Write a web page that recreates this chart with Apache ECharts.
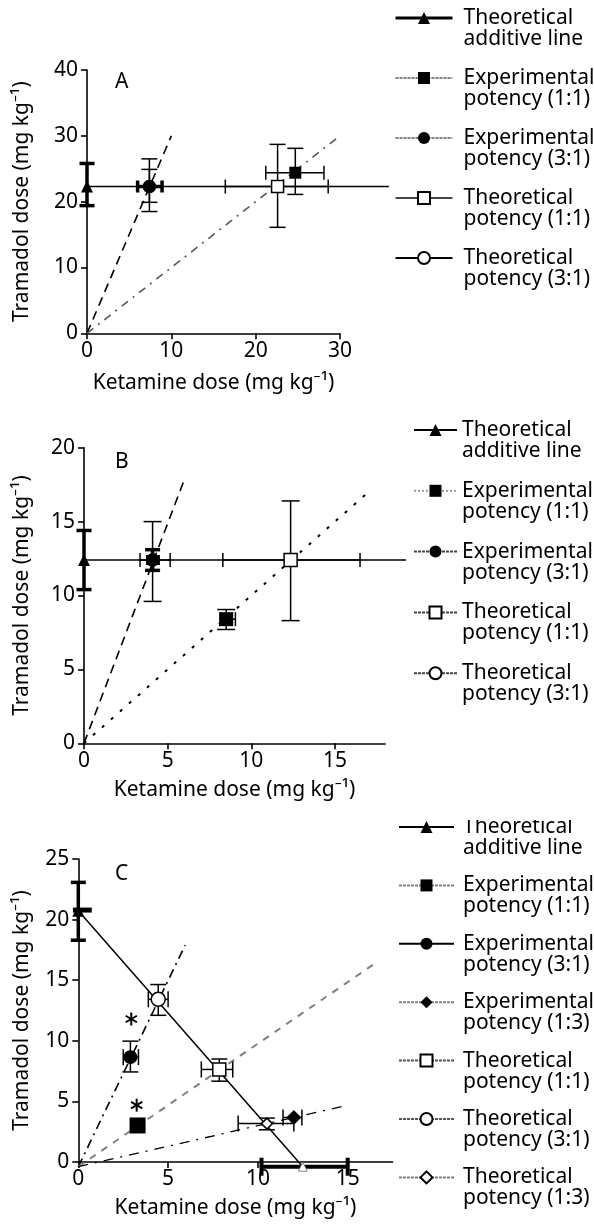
<!DOCTYPE html>
<html>
<head>
<meta charset="utf-8">
<script src="https://cdn.jsdelivr.net/npm/echarts@6/dist/echarts.min.js"></script>
<style>
  body { margin: 0; background: #fff; }
  .panel { position: absolute; left: 0; width: 594px; }
  #chartA { top: 0; height: 400px; }
  #chartB { top: 400px; height: 420px; }
  #chartC { top: 820px; height: 404px; }
</style>
</head>
<body>
<div id="chartA" class="panel"></div>
<div id="chartB" class="panel"></div>
<div id="chartC" class="panel"></div>
<script>
var FONT = '"Noto Sans", "DejaVu Sans", sans-serif';
var FS = 21;
var BLACK = '#000';
var GREY = '#808080';

var xName = 'Ketamine dose (mg kg\u207B\u00B9)';
var yName = 'Tramadol dose (mg kg\u207B\u00B9)';

// ---------- panel A ----------
var aXTicks = [0, 10, 20, 30];
var aYTicks = [0, 10, 20, 30, 40];
var aLegend = ['Theoretical additive line', 'Experimental potency (1:1)', 'Experimental potency (3:1)',
  'Theoretical potency (1:1)', 'Theoretical potency (3:1)'];
var aAdditive = [[0, 22.3], [35.8, 22.3]];
var aExp11 = [[24.7, 24.4]];
var aExp31 = [[7.4, 22.3]];
var aTheo11 = [[22.6, 22.3]];
var aTheo31 = [[7.4, 22.3]];
var aRatio31 = [[0, 0], [10, 30]];
var aRatio11 = [[0, 0], [30, 30]];
// error bars: [x, y, low, high]
var aErrVThick = [[0, 22.3, 19.4, 25.8]];
var aErrHThick = [[7.4, 22.3, 6.0, 8.9]];
var aErrVThin = [[7.4, 22.3, 18.5, 26.5], [7.4, 22.3, 19.9, 24.9], [24.7, 24.4, 21.1, 28.1], [22.6, 22.3, 16.1, 28.7]];
var aErrHThin = [[24.7, 24.4, 21.2, 28.1], [22.6, 22.3, 16.4, 28.6]];

// ---------- panel B ----------
var bXTicks = [0, 5, 10, 15];
var bYTicks = [0, 5, 10, 15, 20];
var bLegend = aLegend;
var bAdditive = [[0, 12.4], [19.25, 12.4]];
var bExp11 = [[8.5, 8.4]];
var bExp31 = [[4.1, 12.4]];
var bTheo11 = [[12.35, 12.4]];
var bTheo31 = [[4.1, 12.4]];
var bRatio31 = [[0, 0], [5.95, 17.7]];
var bRatio11 = [[0, 0], [17, 17]];
var bErrVThick = [[0, 12.4, 10.4, 14.4], [4.1, 12.4, 11.7, 13.1]];
var bErrHThick = [[4.1, 12.4, 3.8, 4.45]];
var bErrVThin = [[4.1, 12.4, 9.6, 15.0], [8.5, 8.4, 7.7, 9.05], [12.35, 12.4, 8.3, 16.4]];
var bErrHThin = [[4.1, 12.4, 3.35, 5.15], [8.5, 8.4, 8.15, 9.05], [12.35, 12.4, 8.3, 16.5]];

// ---------- panel C ----------
var cXTicks = [0, 5, 10, 15];
var cYTicks = [0, 5, 10, 15, 20, 25];
var cLegend = ['Theoretical additive line', 'Experimental potency (1:1)', 'Experimental potency (3:1)',
  'Experimental potency (1:3)', 'Theoretical potency (1:1)', 'Theoretical potency (3:1)', 'Theoretical potency (1:3)'];
var cAdditive = [[0, 20.8], [12.5, 0]];
var cExp11 = [[3.3, 3.35]];
var cExp31 = [[2.9, 8.9]];
var cExp13 = [[12.0, 4.0]];
var cTheo11 = [[7.85, 7.9]];
var cTheo31 = [[4.45, 13.6]];
var cTheo13 = [[10.5, 3.5]];
var cStars = [[2.95, 12.0], [3.25, 5.0]];
var cRatio31 = [[0, 0], [5.95, 18]];
var cRatio11 = [[0, 0], [16.7, 16.7]];
var cRatio13 = [[0, 0], [14.7, 4.9]];
var cErrVThick = [[0, 20.8, 18.4, 23.1]];
var cErrHThick = [[12.5, 0, 10.2, 15.0]];
var cErrHBlock = [[0, 20.85, -0.3, 0.75]];
var cErrVThin = [[4.45, 13.6, 12.3, 14.8], [2.9, 8.9, 7.7, 10.2], [7.85, 7.9, 6.95, 8.75], [10.5, 3.5, 3.0, 3.95]];
var cErrHThin = [[4.45, 13.6, 3.9, 5.0], [2.9, 8.9, 2.5, 3.35], [7.85, 7.9, 6.85, 8.6], [10.5, 3.5, 8.9, 12.0], [12.0, 4.0, 11.4, 12.45]];

// ---------- helpers ----------
function errBars(data, dir, width, cap) {
  return {
    type: 'custom', xAxisIndex: 1, yAxisIndex: 1, data: data, z: 3, silent: true,
    renderItem: function (params, api) {
      var x = api.value(0), y = api.value(1), lo = api.value(2), hi = api.value(3);
      var a, b;
      if (dir === 'v') { a = api.coord([x, lo]); b = api.coord([x, hi]); }
      else { a = api.coord([lo, y]); b = api.coord([hi, y]); }
      var st = { stroke: BLACK, lineWidth: width };
      var kids = [{ type: 'line', shape: { x1: a[0], y1: a[1], x2: b[0], y2: b[1] }, style: st }];
      if (cap > 0) {
        [a, b].forEach(function (p) {
          kids.push(dir === 'v'
            ? { type: 'line', shape: { x1: p[0] - cap, y1: p[1], x2: p[0] + cap, y2: p[1] }, style: st }
            : { type: 'line', shape: { x1: p[0], y1: p[1] - cap, x2: p[0], y2: p[1] + cap }, style: st });
        });
      }
      return { type: 'group', children: kids };
    }
  };
}

function points(name, data, symbol, size, open, line) {
  return {
    name: name, type: 'line', xAxisIndex: 1, yAxisIndex: 1, data: data,
    symbol: symbol, symbolSize: size, showSymbol: true, clip: false, silent: true, z: 5,
    itemStyle: open ? { color: '#fff', borderColor: BLACK, borderWidth: 1.5 } : { color: BLACK, borderWidth: 0 },
    lineStyle: line
  };
}

function refLine(data, style) {
  return {
    type: 'line', xAxisIndex: 1, yAxisIndex: 1, data: data, symbol: 'none',
    clip: false, silent: true, z: 2, lineStyle: style
  };
}

function stars(data) {
  return {
    type: 'custom', xAxisIndex: 1, yAxisIndex: 1, data: data, z: 5, silent: true,
    renderItem: function (params, api) {
      var c = api.coord([api.value(0), api.value(1)]);
      var r = 6.5, kids = [];
      [90, 30, 150].forEach(function (deg) {
        var t = deg * Math.PI / 180;
        kids.push({ type: 'line', shape: { x1: c[0] - r * Math.cos(t), y1: c[1] - r * Math.sin(t), x2: c[0] + r * Math.cos(t), y2: c[1] + r * Math.sin(t) },
          style: { stroke: BLACK, lineWidth: 2 } });
      });
      return { type: 'group', children: kids };
    }
  };
}

function additive(name, data, size, lineWidth) {
  var s = points(name, data.map(function (p, i) {
    return i === 0 ? { value: p } : { value: p, symbol: 'none' };
  }), 'triangle', size, false, { color: BLACK, width: lineWidth, type: 'solid' });
  s.z = 4;
  return s;
}

function axisLine() { return { show: true, onZero: false, lineStyle: { color: BLACK, width: 1.6 } }; }

function panelOption(cfg) {
  var lbl = { fontSize: FS, color: BLACK, fontFamily: FONT };
  return {
    animation: false,
    textStyle: { fontFamily: FONT },
    title: {
      text: cfg.label, left: cfg.labelPos[0], top: cfg.labelPos[1],
      textStyle: { fontSize: FS, fontWeight: 'normal', color: BLACK, fontFamily: FONT }
    },
    grid: [
      { left: cfg.left, top: cfg.top, width: cfg.xMax * cfg.pxX, height: cfg.height },
      { left: cfg.left, top: cfg.top, width: cfg.dataXMax * cfg.pxX, height: cfg.height }
    ],
    xAxis: [{
      gridIndex: 0, type: 'value', min: 0, max: cfg.xMax,
      axisLine: axisLine(),
      axisTick: { show: true, length: 6, customValues: cfg.xTicks, lineStyle: { color: BLACK, width: 1.6 } },
      axisLabel: Object.assign({ customValues: cfg.xTicks, margin: 7 }, lbl),
      splitLine: { show: false },
      name: xName, nameLocation: 'middle', nameGap: cfg.xNameGap, nameTextStyle: lbl
    }, { gridIndex: 1, type: 'value', min: 0, max: cfg.dataXMax, show: false }],
    yAxis: [{
      gridIndex: 0, type: 'value', min: 0, max: cfg.yTicks[cfg.yTicks.length - 1],
      axisLine: axisLine(),
      axisTick: { show: true, length: 6, customValues: cfg.yTicks, lineStyle: { color: BLACK, width: 1.6 } },
      axisLabel: Object.assign({ customValues: cfg.yTicks, margin: 9 }, lbl),
      splitLine: { show: false },
      name: yName, nameLocation: 'middle', nameGap: cfg.yNameGap, nameTextStyle: lbl
    }, { gridIndex: 1, type: 'value', min: 0, max: cfg.yTicks[cfg.yTicks.length - 1], show: false }],
    legend: {
      orient: 'vertical', left: cfg.legend.left, top: cfg.legend.top, padding: 0,
      itemGap: cfg.legend.gap, itemWidth: cfg.legend.itemWidth, itemHeight: 15,
      selectedMode: false, data: cfg.legend.data,
      formatter: function (n) { return '\n' + n.replace(' ', '\n'); },
      textStyle: { fontSize: FS, lineHeight: 21, color: BLACK, fontFamily: FONT, padding: [0, 0, 0, cfg.legend.textPad] }
    },
    series: cfg.series
  };
}

// ---------- chart A ----------
var chartA = echarts.init(document.getElementById('chartA'));
chartA.setOption(panelOption({
  label: 'A', labelPos: [110, 67],
  left: 87, top: 70, height: 263.3, pxX: 8.433, xMax: 30, dataXMax: 36,
  xTicks: aXTicks, yTicks: aYTicks, xNameGap: 39, yNameGap: 54,
  legend: {
    left: 394, top: -13.5, gap: -3, itemWidth: 57, textPad: 6,
    data: aLegend.map(function (n, i) {
      return i === 0 ? { name: n, lineStyle: { width: 3 } } : { name: n };
    })
  },
  series: [
    refLine(aRatio31, { color: BLACK, width: 1.6, type: [9, 6] }),
    refLine(aRatio11, { color: '#555', width: 1.6, type: [8, 6, 2, 6] }),
    additive(aLegend[0], aAdditive, 12, 1.5),
    errBars(aErrVThick, 'v', 3.5, 7.5),
    errBars(aErrHThick, 'h', 3.5, 6),
    errBars(aErrVThin, 'v', 1.5, 8),
    errBars(aErrHThin, 'h', 1.5, 7),
    points(aLegend[3], aTheo11, 'rect', 12, true, { color: '#444', width: 1.5, type: 'solid' }),
    points(aLegend[4], aTheo31, 'circle', 12, true, { color: BLACK, width: 1.5, type: 'solid' }),
    points(aLegend[1], aExp11, 'rect', 12, false, { color: GREY, width: 1.5, type: [3, 1] }),
    points(aLegend[2], aExp31, 'circle', 13, false, { color: GREY, width: 1.5, type: [3, 1] })
  ]
}));

// ---------- chart B ----------
var chartB = echarts.init(document.getElementById('chartB'));
chartB.setOption(panelOption({
  label: 'B', labelPos: [110, 47],
  left: 84, top: 47.7, height: 295.6, pxX: 16.73, xMax: 18, dataXMax: 20,
  xTicks: bXTicks, yTicks: bYTicks, xNameGap: 36, yNameGap: 51,
  legend: {
    left: 413, top: -1.5, gap: -2.2, itemWidth: 43, textPad: 0,
    data: bLegend.map(function (n) { return { name: n }; })
  },
  series: [
    refLine(bRatio31, { color: BLACK, width: 1.6, type: [9, 6] }),
    refLine(bRatio11, { color: BLACK, width: 2, type: [3, 9] }),
    additive(bLegend[0], bAdditive, 12, 1.5),
    errBars(bErrVThick, 'v', 3.5, 7.5),
    errBars(bErrHThick, 'h', 3, 5),
    errBars(bErrVThin, 'v', 1.5, 9),
    errBars(bErrHThin, 'h', 1.5, 7),
    points(bLegend[3], bTheo11, 'rect', 13, true, { color: '#444', width: 1.2, type: [3, 1] }),
    points(bLegend[4], bTheo31, 'circle', 12, true, { color: '#444', width: 1.2, type: [3, 1] }),
    points(bLegend[1], bExp11, 'rect', 14, false, { color: '#999', width: 1.2, type: [2, 2] }),
    points(bLegend[2], bExp31, 'circle', 13, false, { color: '#444', width: 1.5, type: [3, 1] })
  ]
}));

// ---------- chart C ----------
var chartC = echarts.init(document.getElementById('chartC'));
var cSeries = [
  refLine(cRatio31, { color: BLACK, width: 1.6, type: [9, 5, 2, 5] }),
  refLine(cRatio11, { color: GREY, width: 2, type: [7, 7] }),
  refLine(cRatio13, { color: BLACK, width: 1.3, type: [10, 7, 2, 7] }),
  additive(cLegend[0], cAdditive, 12, 1.5),
  errBars(cErrVThick, 'v', 3.5, 7.5),
  errBars(cErrHThick, 'h', 4, 9),
  errBars(cErrHBlock, 'h', 5, 0),
  errBars(cErrVThin, 'v', 1.5, 8),
  errBars(cErrHThin, 'h', 1.5, 8),
  points(cLegend[4], cTheo11, 'rect', 13, true, { color: '#555', width: 1.2, type: [3, 1] }),
  points(cLegend[5], cTheo31, 'circle', 14, true, { color: '#555', width: 1.2, type: [3, 1] }),
  points(cLegend[6], cTheo13, 'diamond', 11, true, { color: GREY, width: 1.2, type: [3, 1] }),
  points(cLegend[1], cExp11, 'rect', 16, false, { color: GREY, width: 1.2, type: [3, 1] }),
  points(cLegend[2], cExp31, 'circle', 14, false, { color: BLACK, width: 1.5, type: 'solid' }),
  points(cLegend[3], cExp13, 'diamond', 15, false, { color: GREY, width: 1.2, type: [3, 1] }),
  stars(cStars)
];
// second end of the additive line is an open triangle on the x axis
cSeries[3].data[1] = { value: cAdditive[1], symbol: 'triangle', symbolSize: 9,
  itemStyle: { color: '#fff', borderColor: GREY, borderWidth: 1 } };
chartC.setOption(panelOption({
  label: 'C', labelPos: [110, 39],
  left: 78.3, top: 39, height: 307.7, pxX: 17.96, xMax: 17.5, dataXMax: 17.5,
  xTicks: cXTicks, yTicks: cYTicks, xNameGap: 36, yNameGap: 46,
  legend: {
    left: 398, top: -24.5, gap: -4.6, itemWidth: 55, textPad: 4,
    data: cLegend.map(function (n) { return { name: n }; })
  },
  series: cSeries
}));
</script>
</body>
</html>
